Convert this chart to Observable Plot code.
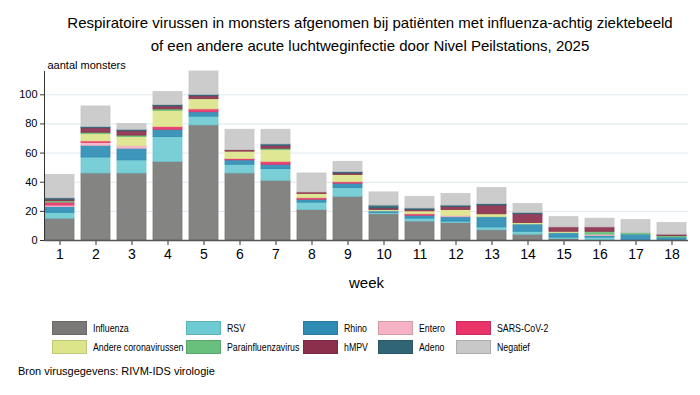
<!DOCTYPE html>
<html>
<head>
<meta charset="utf-8">
<script src="https://cdn.jsdelivr.net/npm/d3@7"></script>
<script src="https://cdn.jsdelivr.net/npm/@observablehq/plot@0.6"></script>
<style>
  body { margin:0; background:#fff; font-family:"Liberation Sans", Arial, sans-serif; color:#000; }
  #wrap { position:relative; width:700px; height:395px; overflow:hidden; }
  #title { position:absolute; left:40px; right:0; top:11px; text-align:center; font-size:15px; line-height:23px; }
  #chart { position:absolute; left:0; top:55px; }
  .leg { position:absolute; font-size:11px; display:flex; align-items:center; height:14px; white-space:nowrap; }
  .leg span { display:inline-block; transform:scaleX(0.8); transform-origin:left center; }
  .sw { width:33px; height:12px; margin-right:6px; border:1px solid; box-sizing:content-box; flex:none; }
  #caption { position:absolute; left:18px; top:365px; font-size:11px; }
</style>
</head>
<body>
<div id="wrap">
  <div id="title">Respiratoire virussen in monsters afgenomen bij patiënten met influenza-achtig ziektebeeld<br>of een andere acute luchtweginfectie door Nivel Peilstations, 2025</div>
  <div id="chart"></div>
  <div id="legend"></div>
  <div id="caption">Bron virusgegevens: RIVM-IDS virologie</div>
</div>
<script>
const weeks = [1,2,3,4,5,6,7,8,9,10,11,12,13,14,15,16,17,18];
const yTicks = [0,20,40,60,80,100];
const seriesNames = ["Influenza","RSV","Rhino","Entero","SARS-CoV-2","Andere coronavirussen","Parainfluenzavirus","hMPV","Adeno","Negatief"];
const seriesColors = ["#7a7978","#6fcbd3","#2f8db5","#f5b2c4","#e9346a","#dde58b","#69c07c","#8c2f4d","#306576","#c8c8c8"];
const influenza  = [15,46,46,54,79,46,41,21,30,18,13,12,7,4,1,0,0,0];
const rsv        = [4,11,9,17,6,6,8,5,6,1,2,1,2,2,1,2,0,0];
const rhino      = [4,8,8,5,3,3,3,2,3,1,2,3,7,5,3,1,4,2];
const entero     = [1,2,2,0,0,0,0,0,0,0,0,1,0,0,0,1,0,0];
const sarscov2   = [2,1,0,2,2,1,2,1,1,0,1,0,0,0,0,0,0,0];
const andereCorona = [0,5,6,11,7,5,8,3,5,1,2,4,2,1,1,0,0,0];
const parainfluenza = [1,1,1,1,0,0,1,0,0,0,0,0,0,0,0,2,1,1];
const hmpv       = [1,3,3,2,2,1,2,1,1,1,1,2,6,6,3,3,0,1];
const adeno      = [1,1,1,1,1,0,1,0,1,2,1,1,1,1,0,0,0,0];
const negatief   = [16,14,4,9,16,14,10,13,7,9,8,8,11,6,7,6,9,8];
const seriesValues = [influenza,rsv,rhino,entero,sarscov2,andereCorona,parainfluenza,hmpv,adeno,negatief];

const rows = [];
seriesNames.forEach((name, s) => {
  weeks.forEach((w, i) => rows.push({week: w, virus: name, value: seriesValues[s][i]}));
});

const chart = Plot.plot({
  width: 700,
  height: 255,
  marginTop: 16,
  marginBottom: 70,
  marginLeft: 44,
  marginRight: 12,
  style: {fontFamily: "Liberation Sans, Arial, sans-serif", background: "#fff"},
  x: {type: "band", domain: weeks, range: [45, 686], paddingInner: 0.2, paddingOuter: 0},
  y: {domain: [0, 116], ticks: yTicks},
  color: {domain: seriesNames, range: seriesColors},
  marks: [
    Plot.ruleY(yTicks.slice(1), {stroke: "#dfe8ee", strokeWidth: 1}),
    Plot.barY(rows, {x: "week", y: "value", fill: "virus", stroke: "virus", strokeWidth: 0.8, fillOpacity: 0.92, order: seriesNames}),
    Plot.axisY({ticks: yTicks, tickSize: 4, tickPadding: 3, fontSize: 11, label: null, stroke: "#333"}),
    Plot.axisX({tickSize: 5, tickPadding: 4, fontSize: 14, label: null, stroke: "#333"}),
    Plot.frame({anchor: "left", stroke: "#333"}),
    Plot.ruleY([0], {stroke: "#555", strokeWidth: 1.5}),
    Plot.text(["aantal monsters"], {frameAnchor: "top-left", dx: 3, dy: -10, textAnchor: "start", fontSize: 11}),
    Plot.text(["week"], {frameAnchor: "bottom", dy: 47, fontSize: 15})
  ]
});
document.getElementById("chart").appendChild(chart);

// legend
const legX = [52, 186, 303, 378, 456];
const legY = [321, 340];
const legend = document.getElementById("legend");
const legendOrder = ["Influenza","RSV","Rhino","Entero","SARS-CoV-2","Andere coronavirussen","Parainfluenzavirus","hMPV","Adeno","Negatief"];
legendOrder.forEach((name, k) => {
  const col = k % 5, row = Math.floor(k / 5);
  const c = seriesColors[seriesNames.indexOf(name)];
  const el = document.createElement("div");
  el.className = "leg";
  el.style.left = legX[col] + "px";
  el.style.top = legY[row] + "px";
  const sw = document.createElement("div");
  sw.className = "sw";
  sw.style.background = c;
  sw.style.borderColor = d3.color(c).darker(0.4).formatHex();
  el.appendChild(sw);
  const t = document.createElement("span");
  t.textContent = name;
  el.appendChild(t);
  legend.appendChild(el);
});
</script>
</body>
</html>
